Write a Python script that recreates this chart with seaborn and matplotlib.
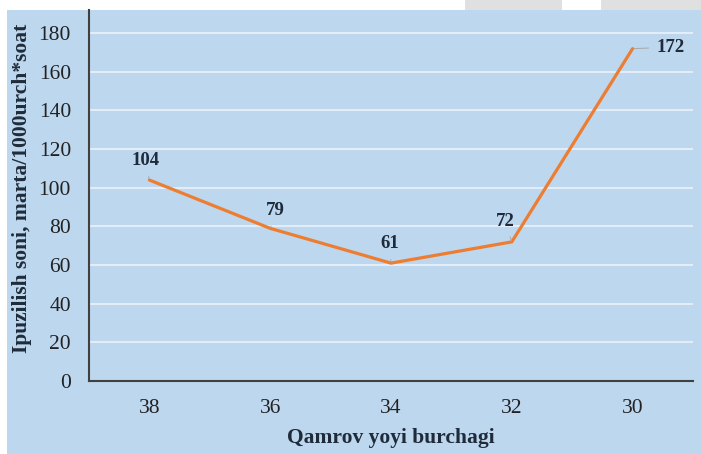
#!/usr/bin/env python3
"""Line chart: Ipuzilish soni vs Qamrov yoyi burchagi."""

import matplotlib
matplotlib.use("Agg")
import matplotlib.pyplot as plt
import pandas as pd
import seaborn as sns
from matplotlib.patches import Rectangle

ANGLES = ["38", "36", "34", "32", "30"]
BREAKS = [104, 79, 61, 72, 172]
# label offsets in points (dx, dy) relative to each point
LABEL_OFFSETS = [(-3, 14), (4, 13), (-1, 14), (-5, 15), (27, 1)]

BG = "#BDD7EE"
LINE = "#ED7D31"
AXIS = "#404040"
TEXT = "#222222"
LABEL = "#1F2B3A"


def configure_style() -> None:
    sns.set_theme(style="white")
    plt.rcParams["font.family"] = ["Liberation Serif", "DejaVu Serif"]
    plt.rcParams["axes.unicode_minus"] = False


def main() -> None:
    configure_style()
    df = pd.DataFrame({"angle": ANGLES, "breaks": BREAKS})

    fig = plt.figure(figsize=(7.01, 4.54), dpi=100)
    fig.patch.set_facecolor("white")
    # light blue chart area and the grey boxes cut off at the top
    fig.patches.append(Rectangle((7 / 701, 0), 1, 444 / 454, transform=fig.transFigure,
                                 facecolor=BG, edgecolor="none", zorder=-5))
    for x0, x1 in [(465, 562), (601, 701)]:
        fig.patches.append(Rectangle((x0 / 701, 444 / 454), (x1 - x0) / 701, 10 / 454,
                                     transform=fig.transFigure, facecolor="#E0E0E0",
                                     edgecolor="none", zorder=-5))

    ax = fig.add_axes([89 / 701, 73 / 454, 604 / 701, 371 / 454])
    ax.set_zorder(1)
    ax.set_facecolor(BG)

    sns.lineplot(data=df, x="angle", y="breaks", sort=False, color=LINE,
                 linewidth=2.3, ax=ax, zorder=3)

    ax.set_xlim(-0.5, len(ANGLES) - 0.5)
    ax.set_ylim(0, 192)
    ax.set_yticks(range(0, 181, 20))
    ax.set_xticks(range(len(ANGLES)))
    ax.set_xticklabels(ANGLES)
    ax.set_xticks([i - 0.5 for i in range(len(ANGLES) + 1)], minor=True)

    ax.grid(axis="y", color="#E8F0F8", linewidth=1.3, zorder=1)
    ax.grid(axis="x", visible=False)
    ax.set_axisbelow(True)

    for side in ["top", "right"]:
        ax.spines[side].set_visible(False)
    for side in ["left", "bottom"]:
        ax.spines[side].set_color(AXIS)
        ax.spines[side].set_linewidth(1.5)

    ax.tick_params(axis="x", which="major", length=0, pad=13, labelsize=15.5, labelcolor=TEXT)
    ax.tick_params(axis="x", which="minor", length=5, width=1.5, color=AXIS, direction="out")
    ax.tick_params(axis="y", length=0, pad=13, labelsize=15.5, labelcolor=TEXT)

    for i, (val, (dx, dy)) in enumerate(zip(BREAKS, LABEL_OFFSETS)):
        ax.annotate(str(val), xy=(i, val), xytext=(dx, dy), textcoords="offset points",
                    ha="center", va="center", fontsize=13.5, fontweight="bold",
                    color=LABEL, zorder=4,
                    arrowprops=dict(arrowstyle="-", color="#A6A6A6", lw=0.7,
                                    shrinkA=3, shrinkB=1))

    ax.set_xlabel("Qamrov yoyi burchagi", fontsize=15.5, fontweight="bold",
                  color=LABEL, labelpad=7)
    ax.set_ylabel("Ipuzilish soni, marta/1000urch*soat", fontsize=15.5, fontweight="bold",
                  color=LABEL)
    ax.yaxis.set_label_coords(-0.095, 0.52)

    fig.savefig("out.png", dpi=100, facecolor=fig.get_facecolor())
    plt.close(fig)


if __name__ == "__main__":
    main()
